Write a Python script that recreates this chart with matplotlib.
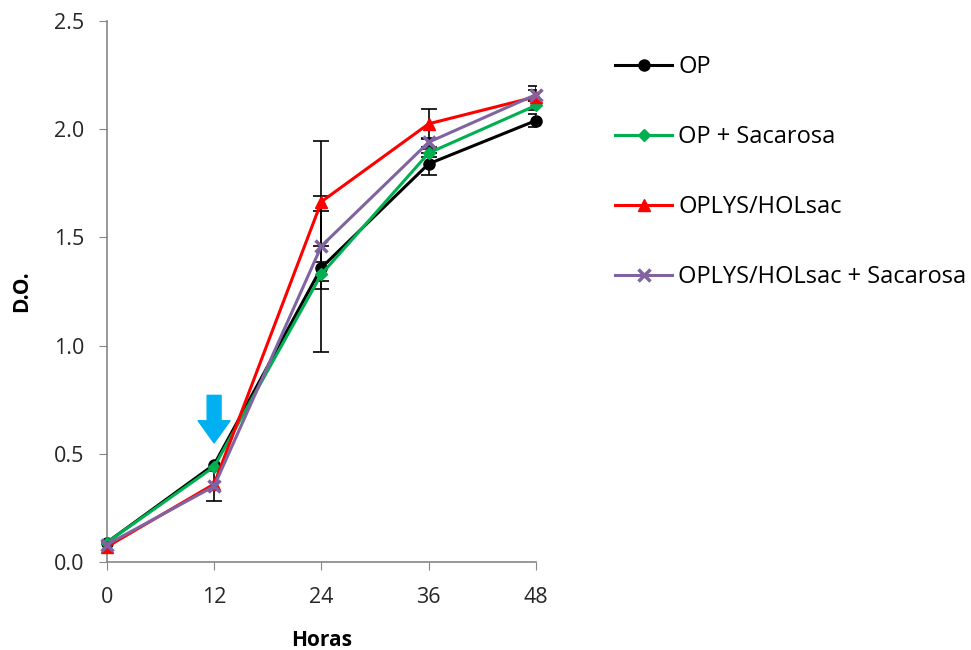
import numpy as np
import matplotlib.pyplot as plt

plt.rcParams['font.family'] = ['Open Sans', 'DejaVu Sans']

horas = [0, 12, 24, 36, 48]

op = [0.09, 0.45, 1.36, 1.84, 2.04]
op_sac = [0.09, 0.44, 1.33, 1.89, 2.11]
oplys = [0.07, 0.36, 1.665, 2.025, 2.15]
oplys_sac = [0.08, 0.35, 1.46, 1.94, 2.16]

op_err = [0.0, 0.0, 0.10, 0.05, 0.03]
op_sac_err = [0.0, 0.0, 0.36, 0.02, 0.02]
oplys_err = [0.0, 0.0, 0.28, 0.07, 0.05]
oplys_sac_err = [0.0, 0.07, 0.16, 0.02, 0.02]

labels = ['OP', 'OP + Sacarosa', 'OPLYS/HOLsac', 'OPLYS/HOLsac + Sacarosa']
series = [op, op_sac, oplys, oplys_sac]
errs = [op_err, op_sac_err, oplys_err, oplys_sac_err]
colors = ['black', '#00B050', '#FF0000', '#8064A2']
markers = ['o', 'D', '^', 'x']
msizes = [8, 6, 9, 9]

fig = plt.figure(figsize=(9.71, 6.5), dpi=100)
ax = fig.add_axes([0.110, 0.1354, 0.442, 0.8323])

for y, e in zip(series, errs):
    x_e = [h for h, v in zip(horas, e) if v > 0]
    y_e = [yy for yy, v in zip(y, e) if v > 0]
    e_e = [v for v in e if v > 0]
    ax.errorbar(x_e, y_e, yerr=e_e, fmt='none', ecolor='black', elinewidth=1.2,
                capsize=6, capthick=1.2, zorder=1)

handles = []
for y, c, m, ms, lab in zip(series, colors, markers, msizes, labels):
    h, = ax.plot(horas, y, color=c, marker=m, markersize=ms, linewidth=2.2,
                 markeredgewidth=2.5 if m == 'x' else 1, label=lab,
                 clip_on=False, zorder=3)
    handles.append(h)

# flecha azul en 12 h
ax.annotate('', xy=(12, 0.55), xytext=(12, 0.77),
            arrowprops=dict(facecolor='#00B0F0', edgecolor='#00B0F0',
                            width=10, headwidth=23, headlength=16))

ax.set_xlim(0, 48)
ax.set_ylim(0, 2.5)
ax.set_xticks(horas)
ax.set_yticks(np.arange(0, 2.51, 0.5))
ax.set_yticklabels(['%.1f' % v for v in np.arange(0, 2.51, 0.5)])
ax.tick_params(labelsize=15.5, length=6, color='#868686', colors='#262626')
ax.tick_params(axis='x', pad=12)
ax.tick_params(axis='y', pad=10)
for s in ['top', 'right']:
    ax.spines[s].set_visible(False)
for s in ['left', 'bottom']:
    ax.spines[s].set_color('#868686')
    ax.spines[s].set_linewidth(1.2)

ax.set_xlabel('Horas', fontsize=15, fontweight='bold', labelpad=16)
ax.set_ylabel('D.O.', fontsize=15, fontweight='bold', labelpad=16)

fig.legend(handles=handles, loc='upper left', bbox_to_anchor=(0.633, 0.915),
           frameon=False, fontsize=17, labelspacing=1.95, handlelength=2.45,
           handletextpad=0.25, borderpad=0, borderaxespad=0)

fig.savefig('out.png', dpi=100)
